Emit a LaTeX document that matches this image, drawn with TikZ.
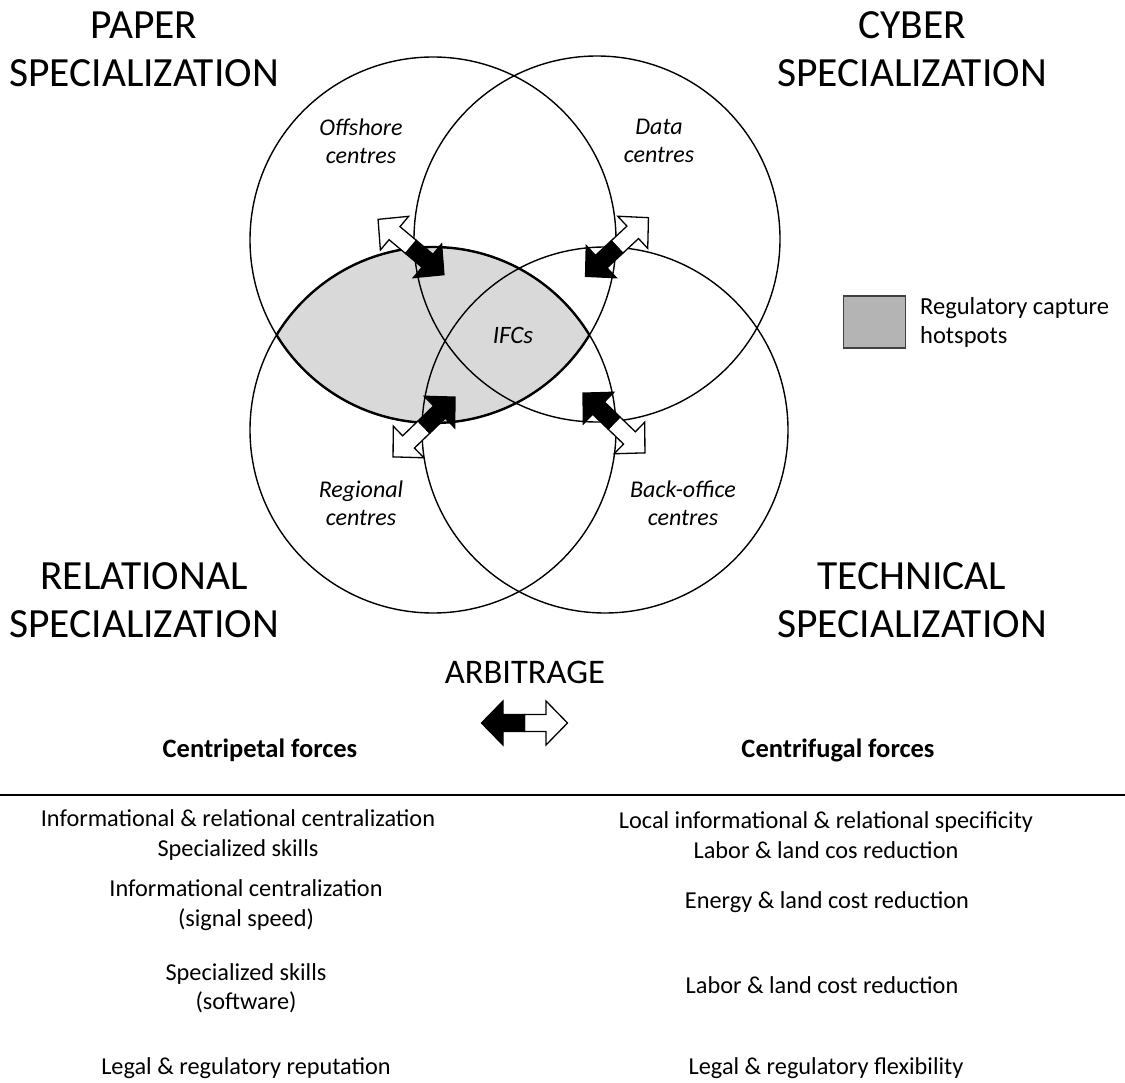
\documentclass[tikz,border=0pt]{standalone}
\usepackage{fontspec}
\setmainfont{Carlito}
\definecolor{lensgray}{HTML}{D9D9D9}
\definecolor{keygray}{HTML}{B4B4B4}
\tikzset{
  dblarrow/.pic={
    \draw[fill=white, line width=1.3pt, line join=miter] (0,8.5) -- (-21.5,8.5) -- (-21.5,22) -- (-43,0) -- (-21.5,-22) -- (-21.5,-8.5) -- (0,-8.5) -- cycle;
    \draw[fill=black, line width=1.3pt, line join=miter] (0,8.5) -- (21.5,8.5) -- (21.5,22) -- (43,0) -- (21.5,-22) -- (21.5,-8.5) -- (0,-8.5) -- cycle;
  }
}
\begin{document}
\begin{tikzpicture}[x=1pt,y=-1pt,
  title/.style={font=\fontsize{41.5}{48}\selectfont, align=center, inner sep=0},
  region/.style={font=\fontsize{24}{28}\selectfont\itshape, align=center, inner sep=0},
  body/.style={font=\fontsize{24.3}{29.5}\selectfont, align=center, inner sep=0},
  headtxt/.style={font=\fontsize{26.5}{30}\selectfont\bfseries, inner sep=0},
  ring/.style={line width=1.4pt},
  lensline/.style={line width=2.4pt},
]
\useasboundingbox (0,0) rectangle (1125,1083);

% circle centres
\coordinate (cTL) at (433,240);
\coordinate (cTR) at (597,239);
\coordinate (cBL) at (433,430);
\coordinate (cBR) at (605,430);

% shaded lens (paper & relational)
\begin{scope}
  \clip (cTL) circle[radius=183];
  \fill[lensgray] (cBL) circle[radius=183];
\end{scope}

% circles
\draw[ring] (cTL) circle[radius=183];
\draw[ring] (cTR) circle[radius=183];
\draw[ring] (cBL) circle[radius=183];
\draw[ring] (cBR) circle[radius=183];

% thick lens outline
\begin{scope}
  \clip (cTL) circle[radius=183];
  \draw[lensline] (cBL) circle[radius=183];
\end{scope}
\begin{scope}
  \clip (cBL) circle[radius=183];
  \draw[lensline] (cTL) circle[radius=183];
\end{scope}

% arbitrage arrows
\pic[rotate=-40] at (411,247) {dblarrow};
\pic[rotate=-137] at (617,247) {dblarrow};
\pic[rotate=44] at (424,427) {dblarrow};
\pic[rotate=136] at (614,423) {dblarrow};
\pic[rotate=180] at (524.5,723) {dblarrow};

% titles
\node[title] (paper) at (144,49) {PAPER\\SPECIALIZATION};
\node[title] (cyber) at (912,49) {CYBER\\SPECIALIZATION};
\node[title] (relational) at (144,600) {RELATIONAL\\SPECIALIZATION};
\node[title] (technical) at (912,600) {TECHNICAL\\SPECIALIZATION};
\node[font=\fontsize{34.5}{40}\selectfont, inner sep=0] (arb) at (525,672) {ARBITRAGE};

% region labels
\node[region] (offshore) at (361,141) {Offshore\\centres};
\node[region] (data) at (659,141) {Data\\centres};
\node[region] (regional) at (361,503) {Regional\\centres};
\node[region] (backoffice) at (683,503) {Back-office\\centres};
\node[font=\fontsize{25}{28}\selectfont\itshape, inner sep=0] (ifcs) at (513,335) {IFCs};

% legend
\node[draw=black!75, fill=keygray, line width=1.3pt, minimum width=62pt, minimum height=52pt, inner sep=0] (key) at (874.5,322) {};
\node[font=\fontsize{24.5}{29}\selectfont, align=left, anchor=west, inner sep=0] (keytxt) at (920,322.5) {Regulatory capture\\hotspots};

% forces
\node[headtxt] (cp) at (260,750) {Centripetal forces};
\node[headtxt] (cf) at (838,750) {Centrifugal forces};
\coordinate (ruleL) at (0,795);
\coordinate (ruleR) at (1125,795);
\draw[line width=2.5pt] (ruleL) -- (ruleR);

\node[body] (l1) at (238,835) {Informational \& relational centralization\\Specialized skills};
\node[body] (l2) at (246,905) {Informational centralization\\(signal speed)};
\node[body] (l3) at (246,988) {Specialized skills\\(software)};
\node[body] (l4) at (246,1068) {Legal \& regulatory reputation};

\node[body] (r1) at (826,835) {Local informational \& relational specificity\\Labor \& land cos reduction};
\node[body] (r2) at (827,902) {Energy \& land cost reduction};
\node[body] (r3) at (822,985) {Labor \& land cost reduction};
\node[body] (r4) at (826,1068) {Legal \& regulatory flexibility};
\end{tikzpicture}
\end{document}
